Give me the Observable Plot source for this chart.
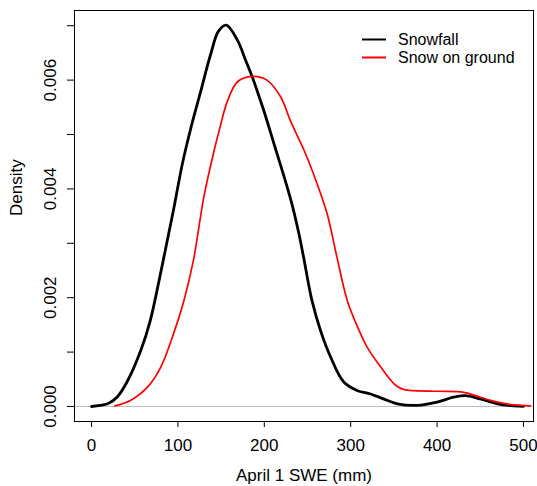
<!DOCTYPE html>
<html>
<head>
<meta charset="utf-8">
<script src="https://cdn.jsdelivr.net/npm/d3@7"></script>
<script src="https://cdn.jsdelivr.net/npm/@observablehq/plot@0.6"></script>
<style>
  html, body { margin: 0; padding: 0; background: #fff; }
  #chart { width: 537px; height: 486px; }
</style>
</head>
<body>
<div id="chart"></div>
<script>
// Snowfall density curve (April 1 SWE, mm)
const snowfallX = [0, 10, 20, 30, 41, 57, 68, 78, 86, 95, 105, 115, 126, 138, 147, 156, 169, 178, 186, 199, 211, 223, 232, 240, 246, 255, 265, 277, 292, 308, 323, 338, 354, 377, 400, 419, 433, 450, 470, 489, 500];
const snowfallY = [0, 0.00002, 0.00006, 0.00018, 0.00045, 0.00103, 0.00158, 0.00230, 0.00292, 0.00362, 0.00445, 0.00512, 0.00577, 0.00648, 0.00690, 0.00701, 0.00673, 0.00638, 0.00606, 0.00546, 0.00484, 0.00422, 0.00372, 0.00318, 0.00270, 0.00196, 0.00140, 0.00090, 0.00045, 0.00029, 0.00023, 0.00014, 0.00005, 0.00002, 0.00008, 0.00017, 0.00020, 0.00014, 0.00005, 0.00001, 0.000003];

// Snow on ground density curve
const groundX = [27, 45, 65, 80, 95, 107, 118, 130, 142, 149, 157, 169, 186, 203, 219, 230, 246, 261, 273, 284, 296, 308, 319, 335, 352, 362, 400, 431, 450, 470, 489, 508];
const groundY = [0.00001, 0.00011, 0.00036, 0.00072, 0.00134, 0.00195, 0.00269, 0.00385, 0.00471, 0.00515, 0.00560, 0.00597, 0.00607, 0.00600, 0.00569, 0.00526, 0.00471, 0.00410, 0.00353, 0.00275, 0.00195, 0.00146, 0.00109, 0.00072, 0.00039, 0.00031, 0.00028, 0.00026, 0.00017, 0.00008, 0.00003, 0.00001];

const xTicks = [0, 100, 200, 300, 400, 500];
const xTickLabels = ["0", "100", "200", "300", "400", "500"];
const yTicks = [0, 0.001, 0.002, 0.003, 0.004, 0.005, 0.006, 0.007];
const yTickLabels = ["0.000", "", "0.002", "", "0.004", "", "0.006", ""];

const seriesNames = ["Snowfall", "Snow on ground"];
const seriesColors = ["black", "red"];
const xTitle = "April 1 SWE (mm)";
const yTitle = "Density";

const snowfall = snowfallX.map((x, i) => ({x, y: snowfallY[i]}));
const ground = groundX.map((x, i) => ({x, y: groundY[i]}));

const W = 537, H = 486;
const mL = 74, mR = 4, mT = 10, mB = 65;
const FONT = "'Liberation Sans', Arial, Helvetica, sans-serif";

const chart = Plot.plot({
  width: W,
  height: H,
  marginLeft: mL,
  marginRight: mR,
  marginTop: mT,
  marginBottom: mB,
  style: {fontFamily: FONT, fontSize: "17px", background: "white", color: "black"},
  x: {domain: [-19.7, 511.6]},
  y: {domain: [-0.000276, 0.00728]},
  marks: [
    Plot.ruleY([0], {stroke: "#bebebe", strokeWidth: 1}),
    Plot.line(snowfall, {x: "x", y: "y", stroke: seriesColors[0], strokeWidth: 2.8, curve: "catmull-rom"}),
    Plot.line(ground, {x: "x", y: "y", stroke: seriesColors[1], strokeWidth: 1.7, curve: "catmull-rom"}),
    Plot.frame({stroke: "black", strokeWidth: 1}),
    Plot.axisX({ticks: xTicks, tickSize: 6, tickPadding: 11, tickFormat: (d) => xTickLabels[xTicks.indexOf(d)], label: null}),
    Plot.axisY({ticks: yTicks, tickSize: 7, tickPadding: 12, tickRotate: -90, tickFormat: (d) => yTickLabels[yTicks.findIndex(t => Math.abs(t - d) < 1e-9)], label: null}),
    Plot.text([xTitle], {text: d => d, frameAnchor: "bottom", dy: 59, lineAnchor: "bottom"}),
    Plot.text([yTitle], {text: d => d, frameAnchor: "left", dx: -53, rotate: -90, lineAnchor: "bottom"})
  ]
});

document.getElementById("chart").appendChild(chart);

// Legend (no box), top-right inside the plot area
const svg = d3.select(chart);
const lg = svg.append("g")
  .attr("font-family", FONT)
  .attr("font-size", 16)
  .attr("text-anchor", "start");
seriesNames.forEach((name, i) => {
  const cy = 39.5 + i * 18;
  lg.append("line").attr("x1", 362).attr("x2", 386).attr("y1", cy).attr("y2", cy)
    .attr("stroke", seriesColors[i]).attr("stroke-width", 2);
  lg.append("text").attr("x", 398).attr("y", cy + 5.8).attr("fill", "black")
    .attr("text-anchor", "start").text(name);
});
</script>
</body>
</html>
